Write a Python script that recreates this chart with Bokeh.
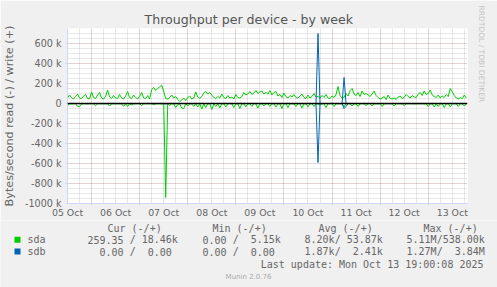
from bokeh.plotting import figure
from bokeh.layouts import column
from bokeh.models import Range1d, FixedTicker, Grid, Span, Title
from bokeh.core.properties import value
from bokeh.embed import file_html
from bokeh.resources import INLINE

# ---------------- data ----------------
# hourly averages, x = hours since 2025-10-05 00:00
hours = list(range(12, 212))
day_labels = ["05 Oct", "06 Oct", "07 Oct", "08 Oct", "09 Oct", "10 Oct", "11 Oct", "12 Oct", "13 Oct"]
y_ticks = [-1000, -800, -600, -400, -200, 0, 200, 400, 600]

# values in kB/s
sda_write = [
    55, 85, 60, 45, 70, 95, 55, 50, 75, 90, 50, 45, 115, 60, 50, 85, 110, 55, 45, 70, 135, 65, 50, 80, 55,
    50, 90, 55, 45, 75, 120, 60, 50, 85, 60, 45, 70, 110, 55, 50, 80, 45, 140, 160, 130, 150, 165, 185, 120, 50,
    45, 60, 85, 55, 70, 40, 20, 35, 55, 30, 60, 75, 45, 55, 115, 65, 50, 70, 105, 120, 95, 110, 85, 60, 50,
    70, 55, 95, 60, 50, 80, 55, 65, 45, 90, 60, 55, 70, 110, 85, 95, 120, 90, 105, 130, 100, 115, 125, 95, 110,
    95, 130, 85, 110, 120, 75, 90, 60, 105, 70, 55, 80, 65, 90, 60, 55, 75, 95, 60, 50, 85, 55, 70, 100, 65,
    70, 55, 80, 60, 90, 55, 50, 75, 60, 90, 170, 80, 55, 60, 100, 75, 130, 150, 95, 80, 110, 70, 125, 90, 100,
    85, 70, 95, 125, 80, 60, 45, 55, 70, 40, 85, 50, 45, 55, 40, 65, 75, 50, 60, 90, 70, 55, 80, 65, 60,
    95, 110, 80, 125, 90, 100, 135, 85, 70, 60, 85, 55, 75, 60, 90, 70, 150, 120, 80, 55, 45, 60, 50, 85, 55,
]
sda_read = [
    20, 5, 3, 2, 2, 28, 30, 5, 2, 3, 4, 3, 2, 2, 22, 3, 2, 4, 3, 3, 3, 25, 3, 2, 3,
    3, 2, 3, 28, 3, 30, 2, 14, 3, 3, 2, 3, 20, 3, 2, 3, 2, 3, 10, 4, 3, 2, 5, 3, 940,
    5, 20, 3, 4, 40, 10, 3, 45, 50, 3, 25, 3, 4, 30, 3, 35, 3, 55, 3, 40, 3, 3, 60, 5, 30,
    3, 45, 3, 3, 35, 3, 2, 3, 40, 3, 3, 50, 3, 2, 35, 3, 3, 30, 2, 3, 45, 3, 2, 25, 3,
    2, 30, 3, 3, 35, 3, 3, 50, 3, 2, 40, 3, 3, 3, 30, 3, 2, 45, 3, 3, 35, 3, 2, 30, 3,
    3, 20, 3, 3, 40, 3, 3, 2, 30, 3, 3, 3, 3, 35, 3, 2, 3, 25, 3, 3, 30, 3, 2, 3, 20,
    3, 2, 25, 3, 3, 3, 2, 30, 3, 3, 2, 3, 3, 25, 3, 2, 3, 3, 20, 3, 3, 2, 3, 3, 3,
    3, 2, 3, 3, 3, 30, 3, 3, 35, 3, 30, 3, 3, 40, 3, 3, 35, 3, 2, 3, 30, 3, 3, 25, 3,
]
sdb_write = [0.0] * 125 + [700.0] + [0.0] * 12 + [260.0] + [0.0] * 61
sdb_read = [0.0] * 49 + [5.0] + [0.0] * 75 + [590.0] + [0.0] * 12 + [50.0, 30.0] + [0.0] * 60

legend_headers = ["Cur (-/+)", "Min (-/+)", "Avg (-/+)", "Max (-/+)"]
legend_names = ["sda", "sdb"]
legend_colors = ["#00CC00", "#0066B3"]
legend_cells = [
    ["259.35 / 18.46k", "  0.00 /  5.15k", "  8.20k/ 53.87k", "  5.11M/538.00k"],
    ["  0.00 /  0.00 ", "  0.00 /  0.00 ", "  1.87k/  2.41k", "  1.27M/  3.84M"],
]
last_update = "Last update: Mon Oct 13 19:00:08 2025"
munin_version = "Munin 2.0.76"

# ---------------- main chart ----------------
W = 497
H_TOP = 220
H_BOT = 287 - H_TOP
FL, FT, FR, FB = 67, 28, 467, 203
AX = "#CFD6F8"
FONT = "#666666"
BG = "#F0F0F0"

p = figure(width=W, height=H_TOP, output_backend="svg", toolbar_location=None,
           x_range=Range1d(12, 211.6), y_range=Range1d(-1000, 750),
           min_border_left=FL, min_border_right=W - FR, min_border_top=FT,
           min_border_bottom=H_TOP - FB)
p.frame_align = False
p.background_fill_color = "#FFFFFF"
p.border_fill_color = BG
p.outline_line_color = None
p.xgrid.visible = False
p.ygrid.visible = False

p.title.text = "Throughput per device - by week"
p.title.align = "left"
p.title.offset = 77
p.title.standoff = 3
p.title.text_font = "DejaVu Sans"
p.title.text_font_size = "12.6px"
p.title.text_font_style = "normal"
p.title.text_color = "#555555"

side = Title(text="RRDTOOL / TOBI OETIKER", align="left", offset=-23, standoff=18,
             text_font="DejaVu Sans", text_font_size="7.5px", text_font_style="normal",
             text_color="#C4C4C4")
p.add_layout(side, "right")

noons = [12 + 24 * i for i in range(len(day_labels))]
midnights = [24 * (i + 1) for i in range(8)]
six_h = [h for h in range(12, 212, 6) if h % 24 != 0]

xa = p.xaxis[0]
xa.ticker = FixedTicker(ticks=noons, minor_ticks=midnights)
xa.major_label_overrides = {t: lab for t, lab in zip(noons, day_labels)}
xa.major_tick_line_color = None
xa.major_tick_out = 0
xa.major_tick_in = 0
xa.minor_tick_line_color = AX
xa.minor_tick_out = 2
xa.minor_tick_in = 0
xa.axis_line_color = AX
xa.major_label_text_font = "DejaVu Sans"
xa.major_label_text_font_size = "9.4px"
xa.major_label_text_color = FONT
xa.major_label_standoff = 1

ya = p.yaxis[0]
ya.ticker = FixedTicker(ticks=y_ticks, minor_ticks=[])
ya.major_label_overrides = {t: ("0" if t == 0 else f"{t} k") for t in y_ticks}
ya.major_tick_line_color = AX
ya.major_tick_out = 2
ya.major_tick_in = 0
ya.minor_tick_line_color = None
ya.axis_line_color = AX
ya.major_label_text_font = "DejaVu Sans"
ya.major_label_text_font_size = "9.6px"
ya.major_label_text_color = FONT
ya.major_label_standoff = 4
ya.axis_label = "Bytes/second read (-) / write (+)"
ya.axis_label_text_font = "DejaVu Sans"
ya.axis_label_text_font_size = "11.2px"
ya.axis_label_text_font_style = "normal"
ya.axis_label_text_color = FONT
ya.axis_label_standoff = 6

for dim, majors, minors in ((0, midnights, six_h),
                            (1, y_ticks, [v for v in range(-1000, 751, 50) if v % 200 != 0])):
    g = Grid(dimension=dim, ticker=FixedTicker(ticks=majors, minor_ticks=minors))
    g.grid_line_color = "#821E1E"
    g.grid_line_alpha = 0.4
    g.grid_line_dash = "1 1"
    g.minor_grid_line_color = "#8C8C8C"
    g.minor_grid_line_alpha = 0.4
    g.minor_grid_line_dash = "1 1"
    p.add_layout(g)

p.line(hours, [-v for v in sda_read], line_color=legend_colors[0], line_width=1)
p.line(hours, sda_write, line_color=legend_colors[0], line_width=1)
p.line(hours, [-v for v in sdb_read], line_color=legend_colors[1], line_width=1)
p.line(hours, sdb_write, line_color=legend_colors[1], line_width=1)
p.add_layout(Span(location=0, dimension="width", line_color="#000000", line_width=1.3))

# ---------------- legend panel (pixel coordinates of the page) ----------------
q = figure(width=W, height=H_BOT, output_backend="svg", toolbar_location=None,
           x_range=Range1d(0, W), y_range=Range1d(287, H_TOP),
           x_axis_location=None, y_axis_location=None,
           min_border_left=0, min_border_right=0, min_border_top=0, min_border_bottom=0)
q.frame_align = False
q.background_fill_color = BG
q.border_fill_color = BG
q.outline_line_color = None
q.xgrid.visible = False
q.ygrid.visible = False

MONO = "DejaVu Sans Mono"
CW = 6.02
tx, ty, tt = [], [], []
for txt, x in zip(legend_headers, [107, 212, 318, 423]):
    tx.append(x); ty.append(227.7); tt.append(txt)

col_starts = [87, 190, 292, 394]
row_y = [239.3, 251.0]
for r, (name, cells) in enumerate(zip(legend_names, legend_cells)):
    y = row_y[r]
    tx.append(27); ty.append(y); tt.append(name)
    for cell, x0 in zip(cells, col_starts):
        i = 0
        while i < len(cell):
            if cell[i] == " ":
                i += 1
                continue
            j = i
            while j < len(cell) and cell[j] != " ":
                j += 1
            tx.append(x0 + i * CW); ty.append(y); tt.append(cell[i:j])
            i = j

q.text(tx, ty, text=tt, text_font=value(MONO), text_font_size=value("10px"),
       text_color=FONT, text_baseline="middle", text_align="left")
q.text([483], [263.7], text=[last_update], text_font=value(MONO), text_font_size=value("10px"),
       text_color=FONT, text_baseline="middle", text_align="right")
q.text([248], [276], text=[munin_version], text_font=value("DejaVu Sans"),
       text_font_size=value("7px"), text_color="#AAAAAA", text_baseline="middle", text_align="center")
q.quad(left=[14, 14], right=[20, 20], top=[y - 3 for y in row_y], bottom=[y + 3 for y in row_y],
       fill_color=legend_colors, line_color=None)

layout = column(p, q, spacing=0)
open("out.html", "w").write(file_html(layout, INLINE))
